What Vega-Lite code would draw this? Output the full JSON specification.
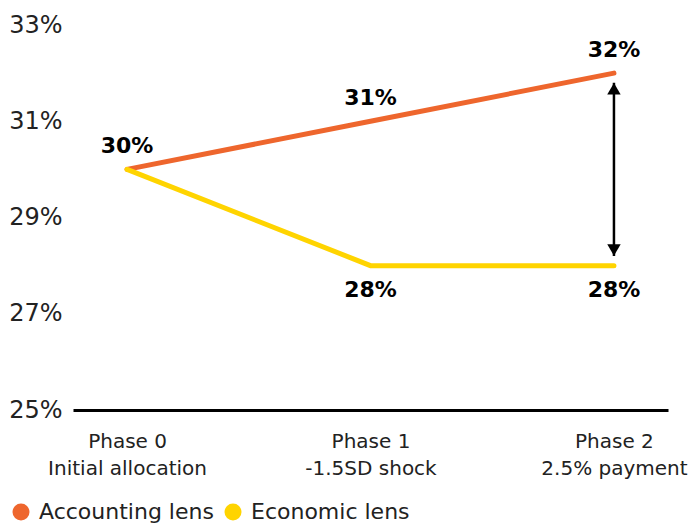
{
  "$schema": "https://vega.github.io/schema/vega-lite/v6.json",
  "width": 595,
  "height": 385,
  "autosize": "none",
  "padding": {"left": 73, "top": 25, "right": 23, "bottom": 115},
  "config": {"view": {"stroke": null}, "font": "DejaVu Sans"},
  "datasets": {
    "lines": [
      {"phase": "Phase 0|Initial allocation", "series": "Accounting lens", "value": 30},
      {"phase": "Phase 1|-1.5SD shock", "series": "Accounting lens", "value": 31},
      {"phase": "Phase 2|2.5% payment", "series": "Accounting lens", "value": 32},
      {"phase": "Phase 0|Initial allocation", "series": "Economic lens", "value": 30},
      {"phase": "Phase 1|-1.5SD shock", "series": "Economic lens", "value": 28},
      {"phase": "Phase 2|2.5% payment", "series": "Economic lens", "value": 28}
    ],
    "arrow": [
      {"phase": "Phase 2|2.5% payment", "lo": 28.2, "hi": 31.8}
    ]
  },
  "encoding": {
    "x": {
      "field": "phase",
      "type": "nominal",
      "sort": null,
      "scale": {"type": "point", "padding": 0.222},
      "axis": {
        "title": null,
        "labelAngle": 0,
        "labelExpr": "split(datum.value, '|')",
        "labelFontSize": 20,
        "labelColor": "#222222",
        "labelLineHeight": 27,
        "labelPadding": 21,
        "labelLimit": 300,
        "ticks": false,
        "domainColor": "#000000",
        "domainWidth": 3,
        "grid": false
      }
    }
  },
  "layer": [
    {
      "data": {"name": "lines"},
      "mark": {"type": "line", "strokeWidth": 5, "strokeCap": "round"},
      "encoding": {
        "y": {
          "field": "value",
          "type": "quantitative",
          "scale": {"domain": [25, 33], "nice": false, "zero": false},
          "axis": {
            "title": null,
            "values": [25, 27, 29, 31, 33],
            "labelExpr": "datum.value + '%'",
            "labelFontSize": 24,
            "labelColor": "#222222",
            "labelPadding": 11,
            "domain": false,
            "ticks": false,
            "grid": false
          }
        },
        "color": {
          "field": "series",
          "type": "nominal",
          "scale": {"domain": ["Accounting lens", "Economic lens"], "range": ["#EE662D", "#FFD400"]},
          "legend": {
            "title": null,
            "orient": "none",
            "legendX": -63,
            "legendY": 476,
            "direction": "horizontal",
            "symbolType": "circle",
            "symbolSize": 289,
            "symbolStrokeWidth": 0,
            "labelFontSize": 22,
            "labelColor": "#222222",
            "labelLimit": 400,
            "columnPadding": 8,
            "labelOffset": 7,
            "encode": {
              "symbols": {
                "update": {
                  "fill": {"scale": "color", "field": "value"},
                  "stroke": {"value": "transparent"},
                  "fillOpacity": {"value": 1}
                }
              }
            }
          }
        }
      }
    },
    {
      "data": {"name": "lines"},
      "transform": [
        {"filter": "datum.series === 'Accounting lens'"},
        {"calculate": "datum.value + '%'", "as": "label"}
      ],
      "mark": {"type": "text", "dy": -23, "fontSize": 22, "fontWeight": "bold", "color": "#000000"},
      "encoding": {
        "y": {"field": "value", "type": "quantitative"},
        "text": {"field": "label", "type": "nominal"}
      }
    },
    {
      "data": {"name": "lines"},
      "transform": [
        {"filter": "datum.series === 'Economic lens' && datum.value !== 30"},
        {"calculate": "datum.value + '%'", "as": "label"}
      ],
      "mark": {"type": "text", "dy": 24, "fontSize": 22, "fontWeight": "bold", "color": "#000000"},
      "encoding": {
        "y": {"field": "value", "type": "quantitative"},
        "text": {"field": "label", "type": "nominal"}
      }
    },
    {
      "data": {"name": "arrow"},
      "mark": {"type": "rule", "strokeWidth": 2.5, "color": "#000000"},
      "encoding": {
        "y": {"field": "lo", "type": "quantitative"},
        "y2": {"field": "hi"}
      }
    },
    {
      "data": {"name": "arrow"},
      "mark": {"type": "point", "shape": "triangle-up", "filled": true, "size": 180, "color": "#000000", "opacity": 1, "yOffset": 6},
      "encoding": {
        "y": {"field": "hi", "type": "quantitative"}
      }
    },
    {
      "data": {"name": "arrow"},
      "mark": {"type": "point", "shape": "triangle-down", "filled": true, "size": 180, "color": "#000000", "opacity": 1, "yOffset": -6},
      "encoding": {
        "y": {"field": "lo", "type": "quantitative"}
      }
    }
  ]
}
